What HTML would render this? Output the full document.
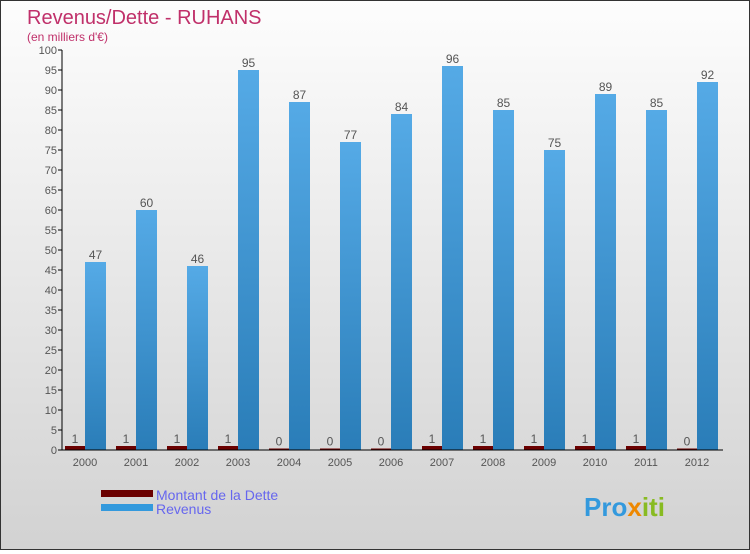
<!DOCTYPE html>
<html><head><meta charset="utf-8"><style>
body{margin:0;width:750px;height:550px;overflow:hidden}
#c{position:absolute;left:0;top:0;width:748px;height:548px;border:1px solid #333;background:linear-gradient(#fdfdfd,#d2d2d2)}
text{font-family:"Liberation Sans",sans-serif}
</style></head><body>
<div id="c">
<svg id="s" width="748" height="548">
<defs><linearGradient id="rg" x1="0" y1="0" x2="0" y2="1"><stop offset="0" stop-color="#55aae6"/><stop offset="1" stop-color="#2a7db8"/></linearGradient></defs>
<text x="26" y="23" font-size="20" fill="#c0306a">Revenus/Dette - RUHANS</text>
<text x="26" y="40" font-size="12" fill="#c0306a">(en milliers d'€)</text>
<g id="g"></g>
<rect x="100" y="489" width="52" height="7" fill="#6b0000"/>
<rect x="100" y="503" width="52" height="7" fill="#3399dd"/>
<text x="155" y="499" font-size="14" fill="#6666ee">Montant de la Dette</text>
<text x="155" y="513" font-size="14" fill="#6666ee">Revenus</text>
<text x="583" y="515" font-size="26" font-weight="bold" fill="#3399dd">Pro<tspan fill="#ee8800">x</tspan><tspan fill="#88bb22">iti</tspan></text>
</svg></div>
<script>
const years=["2000","2001","2002","2003","2004","2005","2006","2007","2008","2009","2010","2011","2012"];
const debt=[1,1,1,1,0,0,0,1,1,1,1,1,0];
const revenus=[47,60,46,95,87,77,84,96,85,75,89,85,92];
const yTicks=[0,5,10,15,20,25,30,35,40,45,50,55,60,65,70,75,80,85,90,95,100];
const NS="http://www.w3.org/2000/svg";
const g=document.getElementById('g');
const y=v=>449-v*4;
const xc=i=>84+i*51;
function mk(t,a,txt){const e=document.createElementNS(NS,t);for(const k in a)e.setAttribute(k,a[k]);if(txt!=null)e.textContent=txt;g.appendChild(e);return e;}
yTicks.forEach(v=>{
const t=mk('text',{x:56,y:y(v)+4,'font-size':11,fill:'#555','text-anchor':'end'},v);


const l=mk('line',{x1:57,x2:61,y1:y(v),y2:y(v),stroke:'#000'});


});
years.forEach((yr,i)=>{
const dh=Math.max(debt[i]*4,1.5);
const d=mk('rect',{x:xc(i)-20,y:y(0)-dh,width:20,height:dh,fill:'#6b0000'});


const r=mk('rect',{x:xc(i),y:y(revenus[i]),width:21,height:revenus[i]*4,fill:'url(#rg)'});


const dl=mk('text',{x:xc(i)-10,y:y(0)-dh-3,'font-size':12,fill:'#555','text-anchor':'middle'},debt[i]);


const rl=mk('text',{x:xc(i)+10.5,y:y(revenus[i])-3,'font-size':12,fill:'#555','text-anchor':'middle'},revenus[i]);


const xl=mk('text',{x:xc(i),y:y(0)+16,'font-size':11,fill:'#555','text-anchor':'middle'},yr);


});
const ax=mk('line',{x1:61,x2:61,y1:49,y2:y(0),stroke:'#000'});


const bx=mk('line',{x1:61,x2:722,y1:y(0),y2:y(0),stroke:'#000'});


</script>
</body></html>
